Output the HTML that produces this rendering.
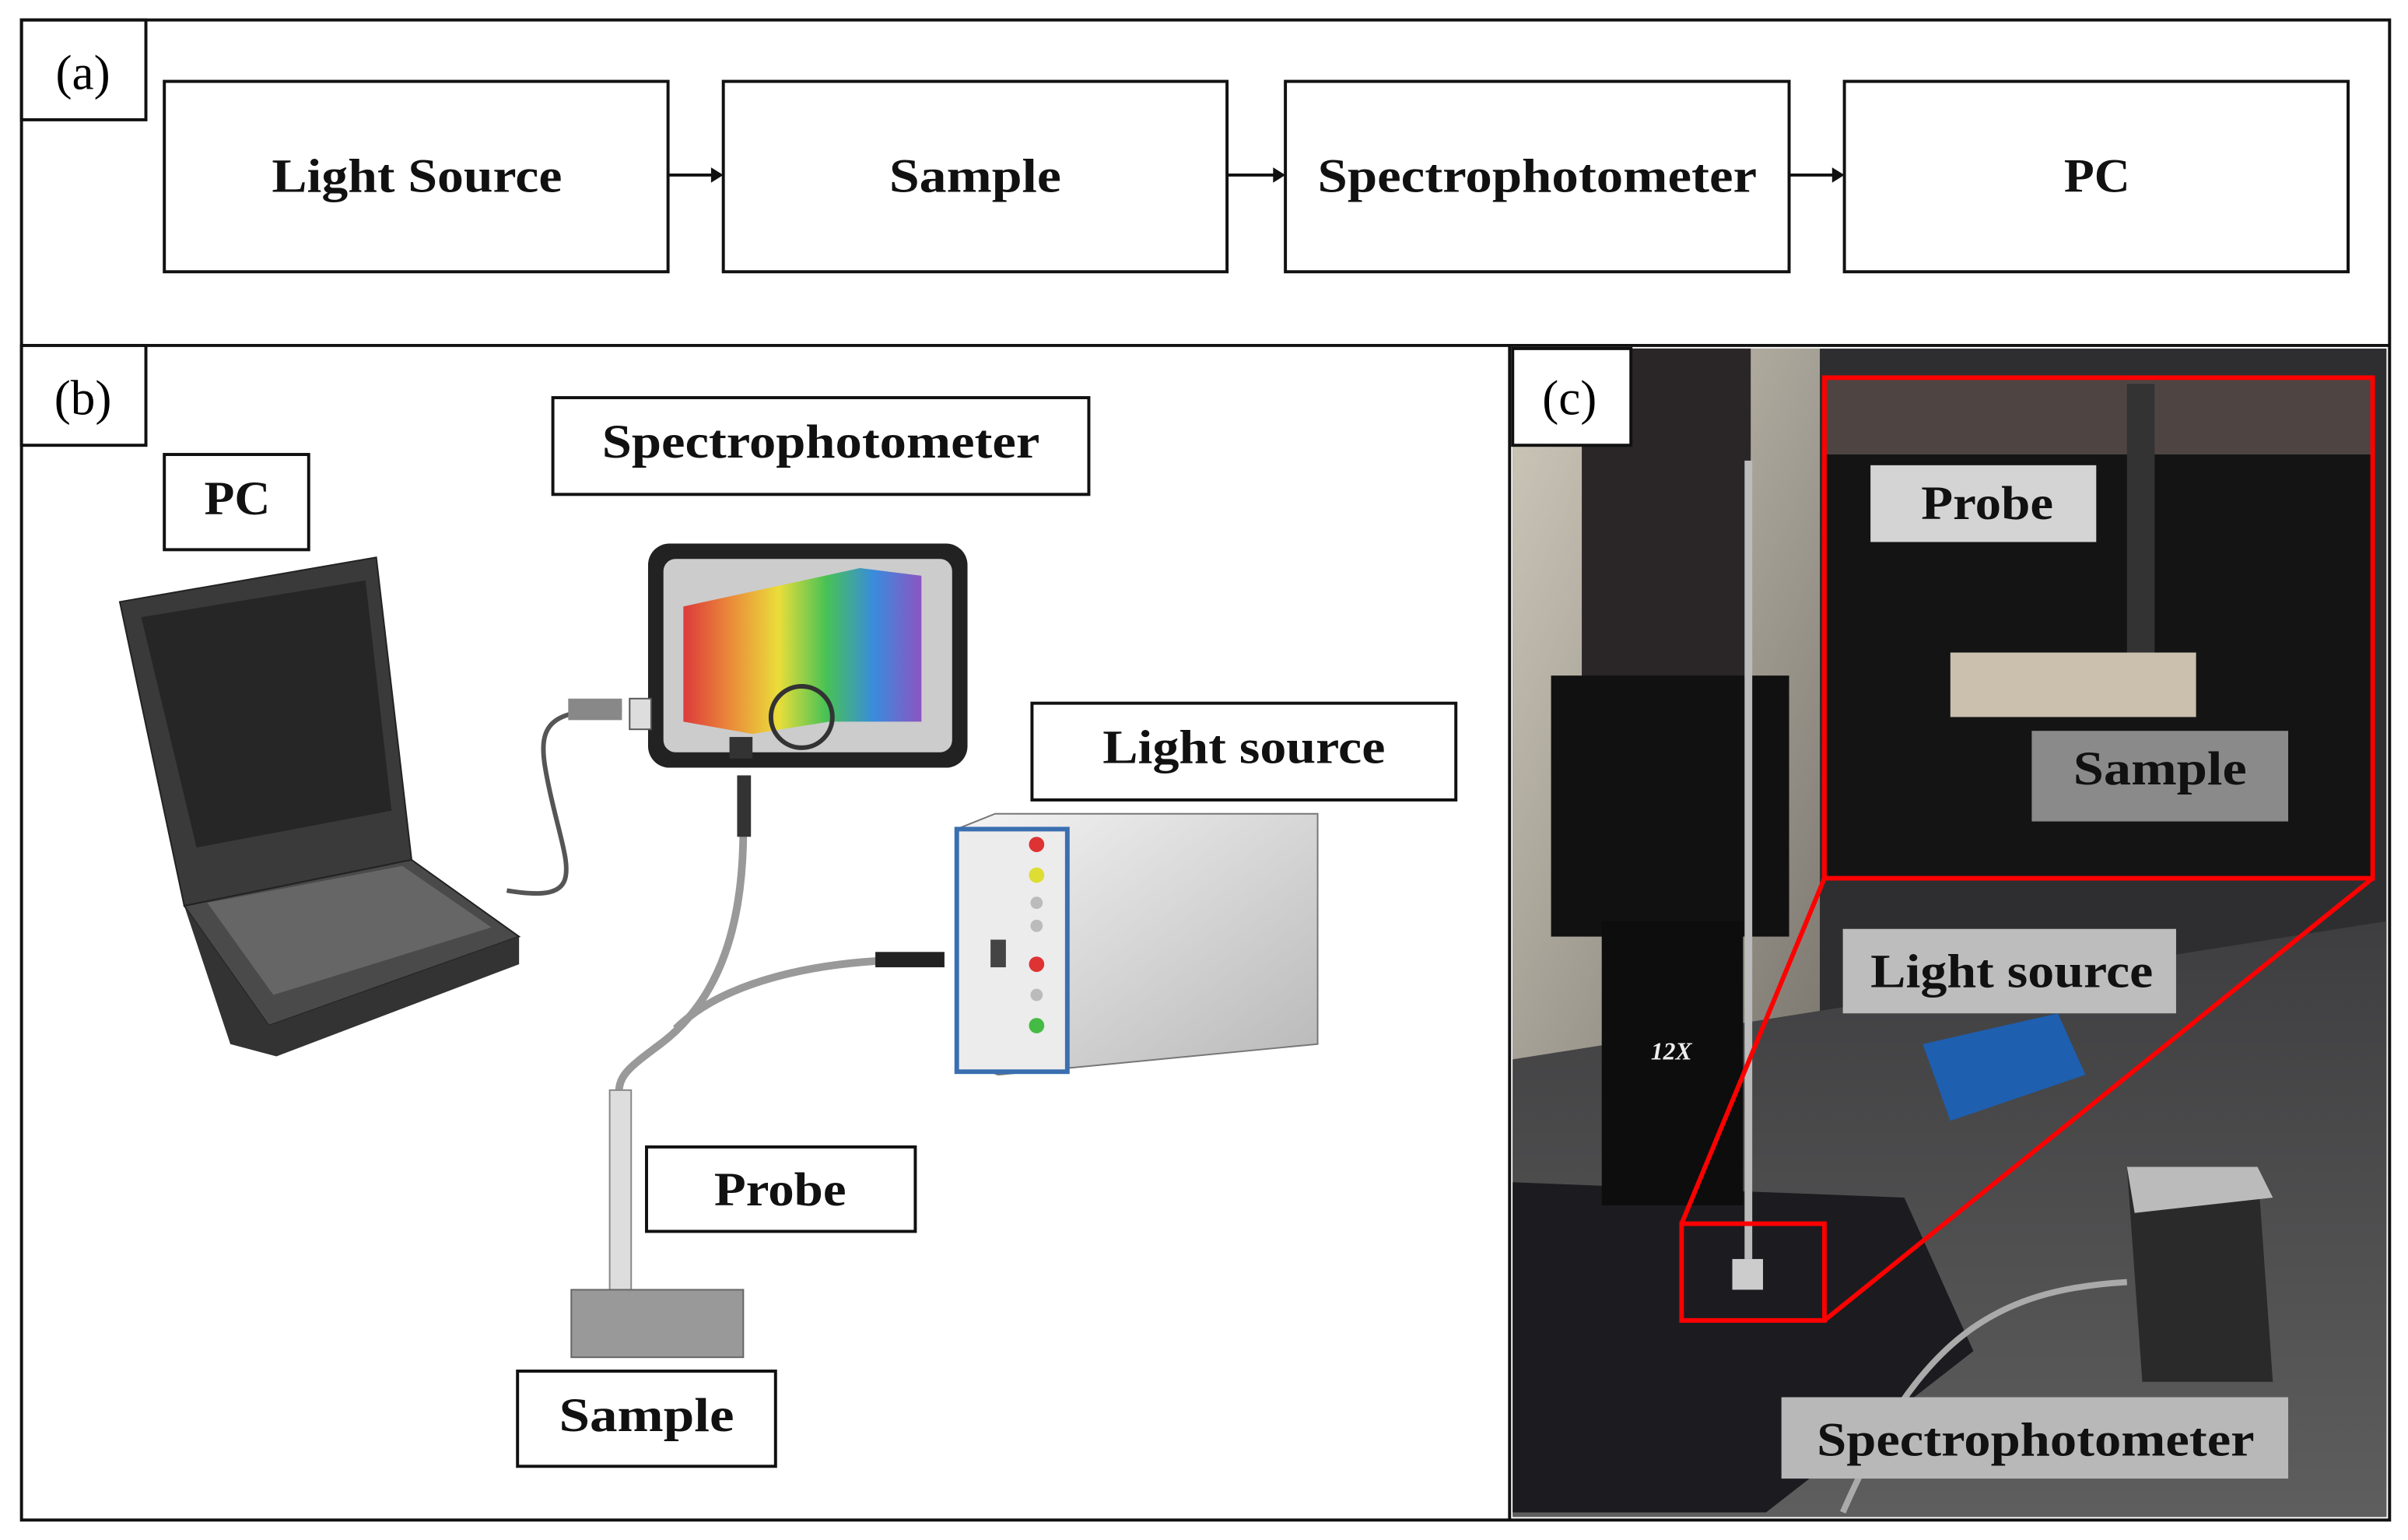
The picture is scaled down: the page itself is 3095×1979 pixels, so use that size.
<!DOCTYPE html>
<html><head><meta charset="utf-8"><style>html,body{margin:0;padding:0;background:#fff}svg{display:block}</style></head>
<body>
<svg width="3095" height="1979" viewBox="0 0 1568 1003" preserveAspectRatio="none" xmlns="http://www.w3.org/2000/svg" font-family="Liberation Serif, serif" font-weight="bold">
<defs>
<linearGradient id="rb" x1="0" y1="0" x2="1" y2="0">
<stop offset="0" stop-color="#e02020"/><stop offset="0.2" stop-color="#f08020"/><stop offset="0.4" stop-color="#f0e020"/><stop offset="0.6" stop-color="#30c040"/><stop offset="0.8" stop-color="#2080e0"/><stop offset="1" stop-color="#8040c0"/></linearGradient>
<linearGradient id="ls" x1="0" y1="0" x2="1" y2="1"><stop offset="0" stop-color="#f4f4f4"/><stop offset="1" stop-color="#b8b8b8"/></linearGradient>
<linearGradient id="wall" x1="0" y1="0" x2="1" y2="1"><stop offset="0" stop-color="#cfc9bb"/><stop offset="1" stop-color="#7c7870"/></linearGradient>
<linearGradient id="tbl" x1="0" y1="0" x2="0" y2="1"><stop offset="0" stop-color="#3e3e40"/><stop offset="1" stop-color="#5e5e5e"/></linearGradient>
</defs>
<rect width="1568" height="1003" fill="#fff"/>
<g fill="none" stroke="#111" stroke-width="2">
<rect x="14" y="13" width="1542" height="977"/>
<line x1="14" y1="225" x2="1556" y2="225"/>
<line x1="983" y1="225" x2="983" y2="990"/>
<rect x="14" y="13" width="81" height="65"/>
</g>
<text x="54" y="58" font-size="32" font-weight="normal" text-anchor="middle">(a)</text>
<g fill="none" stroke="#111" stroke-width="2">
<rect x="107" y="53" width="328" height="124"/>
<rect x="471" y="53" width="328" height="124"/>
<rect x="837" y="53" width="328" height="124"/>
<rect x="1201" y="53" width="328" height="124"/>
<line x1="435" y1="114" x2="464" y2="114"/><line x1="799" y1="114" x2="830" y2="114"/><line x1="1165" y1="114" x2="1194" y2="114"/>
</g>
<g fill="#111"><polygon points="471,114 463,109 463,119"/><polygon points="837,114 829,109 829,119"/><polygon points="1201,114 1193,109 1193,119"/></g>
<g font-size="31" fill="#111" lengthAdjust="spacingAndGlyphs">
<text x="177" y="125" textLength="189" lengthAdjust="spacingAndGlyphs">Light Source</text>
<text x="579" y="125" textLength="112" lengthAdjust="spacingAndGlyphs">Sample</text>
<text x="858" y="125" textLength="286" lengthAdjust="spacingAndGlyphs">Spectrophotometer</text>
<text x="1344" y="125" textLength="43" lengthAdjust="spacingAndGlyphs">PC</text>
</g>
<rect x="14" y="225" width="81" height="65" fill="#fff" stroke="#111" stroke-width="2"/>
<text x="54" y="270" font-size="32" font-weight="normal" text-anchor="middle">(b)</text>
<polygon points="78,392 245,363 268,560 120,590" fill="#3a3a3a" stroke="#222"/>
<polygon points="92,402 238,378 255,528 128,552" fill="#262626"/>
<polygon points="120,590 268,560 338,610 175,668" fill="#4a4a4a" stroke="#222"/>
<polygon points="135,588 262,564 320,604 178,648" fill="#666"/>
<polygon points="175,668 338,610 338,628 180,688 150,680 120,590" fill="#333"/>
<path d="M405,462 C360,462 350,470 355,500 C365,560 390,590 330,580" fill="none" stroke="#555" stroke-width="3"/>
<rect x="370" y="455" width="35" height="14" fill="#888"/>
<rect x="422" y="354" width="208" height="146" rx="14" fill="#222"/>
<rect x="432" y="364" width="188" height="126" rx="8" fill="#ccc"/>
<polygon points="445,395 560,370 600,375 600,470 540,470 490,478 445,470" fill="url(#rb)" opacity="0.85"/>
<circle cx="522" cy="467" r="20" fill="none" stroke="#333" stroke-width="3"/>
<rect x="475" y="480" width="15" height="14" fill="#333"/>
<rect x="410" y="455" width="14" height="20" fill="#ddd" stroke="#555"/>
<polygon points="623,540 648,530 858,530 858,680 650,700 623,690" fill="url(#ls)" stroke="#777"/>
<rect x="623" y="540" width="72" height="158" fill="#ececec" stroke="#3a6fb0" stroke-width="3"/>
<g><circle cx="675" cy="550" r="5" fill="#d33"/><circle cx="675" cy="570" r="5" fill="#dd3"/><circle cx="675" cy="588" r="4" fill="#bbb"/><circle cx="675" cy="603" r="4" fill="#bbb"/><circle cx="675" cy="628" r="5" fill="#d33"/><circle cx="675" cy="648" r="4" fill="#bbb"/><circle cx="675" cy="668" r="5" fill="#4b4"/></g>
<rect x="645" y="612" width="10" height="18" fill="#444"/>
<g fill="none" stroke="#999" stroke-width="5">
<path d="M484,540 C484,600 470,650 430,680 C410,695 403,700 403,712"/>
<path d="M600,625 C530,625 470,640 440,670"/>
</g>
<rect x="480" y="505" width="9" height="40" fill="#333"/>
<rect x="570" y="620" width="45" height="10" fill="#222"/>
<rect x="397" y="710" width="14" height="170" fill="#ddd" stroke="#888"/>
<rect x="372" y="840" width="112" height="44" fill="#999" stroke="#666"/>
<g fill="#fff" stroke="#111" stroke-width="2">
<rect x="360" y="259" width="349" height="63"/><rect x="107" y="296" width="94" height="62"/>
<rect x="672" y="458" width="276" height="63"/><rect x="421" y="747" width="175" height="55"/>
<rect x="337" y="893" width="168" height="62"/>
</g>
<g font-size="31" fill="#111">
<text x="392" y="298" textLength="285" lengthAdjust="spacingAndGlyphs">Spectrophotometer</text>
<text x="133" y="335" textLength="43" lengthAdjust="spacingAndGlyphs">PC</text>
<text x="718" y="497" textLength="184" lengthAdjust="spacingAndGlyphs">Light source</text>
<text x="465" y="785" textLength="86" lengthAdjust="spacingAndGlyphs">Probe</text>
<text x="364" y="932" textLength="114" lengthAdjust="spacingAndGlyphs">Sample</text>
</g>
<rect x="985" y="227" width="569" height="761" fill="#2e2e30"/>
<rect x="985" y="227" width="200" height="470" fill="url(#wall)"/>
<polygon points="985,690 1554,600 1554,988 985,988" fill="url(#tbl)"/>
<polygon points="985,770 1240,780 1285,880 1150,985 985,985" fill="#1c1c20"/>
<rect x="1030" y="227" width="110" height="215" fill="#2a2628"/>
<rect x="1010" y="440" width="155" height="170" fill="#111"/>
<rect x="1043" y="600" width="92" height="185" fill="#0d0d0d"/>
<text x="1075" y="690" font-size="16" fill="#eee" font-style="italic">12X</text>
<rect x="1136" y="300" width="5" height="520" fill="#bbb"/>
<rect x="1128" y="820" width="20" height="20" fill="#ccc"/>
<polygon points="1252,680 1340,660 1358,700 1270,730" fill="#1e5fb0"/>
<path d="M1385,835 C1300,840 1250,870 1200,985" fill="none" stroke="#aaa" stroke-width="4"/>
<polygon points="1385,760 1470,760 1480,900 1395,900" fill="#2a2a2a"/>
<polygon points="1385,760 1470,760 1480,780 1390,790" fill="#bbb"/>
<rect x="985" y="227" width="77" height="63" fill="#fff" stroke="#111" stroke-width="2"/>
<text x="1022" y="270" font-size="32" font-weight="normal" text-anchor="middle">(c)</text>
<rect x="1188" y="246" width="357" height="326" fill="#141414"/>
<rect x="1188" y="246" width="357" height="50" fill="#4e4442"/>
<rect x="1385" y="250" width="18" height="185" fill="#333"/>
<rect x="1270" y="425" width="160" height="42" fill="#cbbfae"/>
<g fill="none" stroke="#f00" stroke-width="3">
<rect x="1188" y="246" width="357" height="326"/>
<rect x="1095" y="797" width="93" height="63"/>
<line x1="1095" y1="797" x2="1188" y2="572"/><line x1="1188" y1="860" x2="1545" y2="572"/>
</g>
<rect x="1218" y="303" width="147" height="50" fill="#d4d4d4"/>
<rect x="1323" y="476" width="167" height="59" fill="#8a8a8a"/>
<rect x="1200" y="605" width="217" height="55" fill="#bdbdbd"/>
<rect x="1160" y="910" width="330" height="53" fill="#b8b8b8"/>
<g font-size="31" fill="#111">
<text x="1251" y="338" textLength="86" lengthAdjust="spacingAndGlyphs">Probe</text>
<text x="1350" y="511" textLength="113" lengthAdjust="spacingAndGlyphs">Sample</text>
<text x="1218" y="643" textLength="184" lengthAdjust="spacingAndGlyphs">Light source</text>
<text x="1183" y="948" textLength="285" lengthAdjust="spacingAndGlyphs">Spectrophotometer</text>
</g>
</svg>
</body></html>
